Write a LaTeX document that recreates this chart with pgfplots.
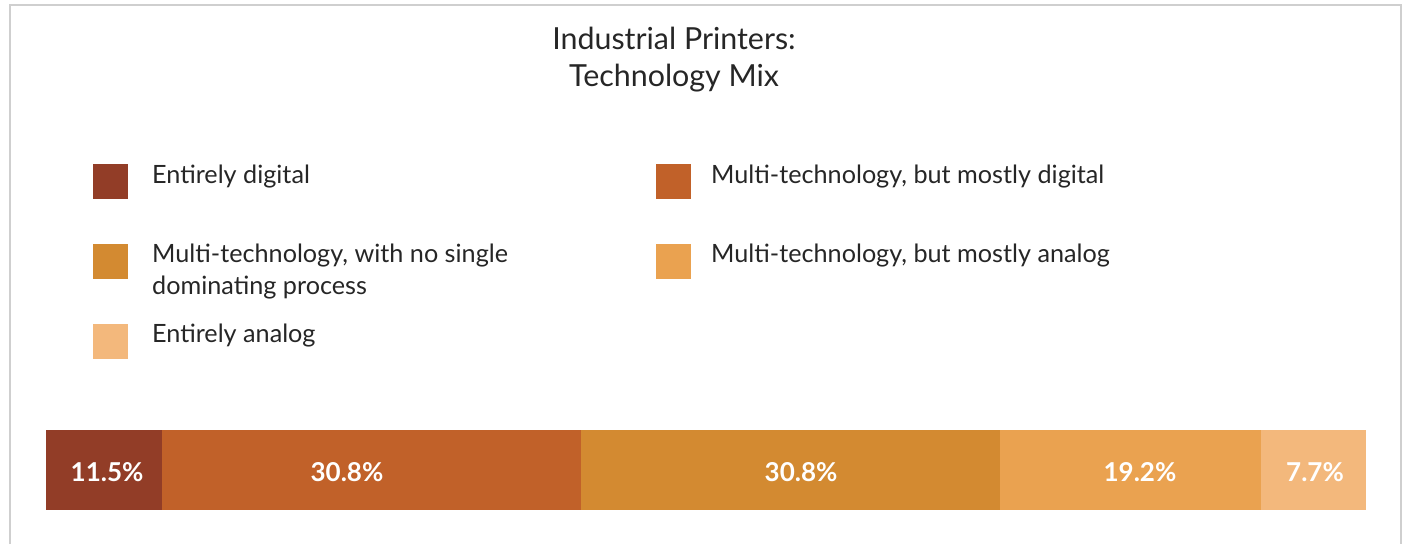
\documentclass[border=0pt]{standalone}
\usepackage{fontspec}
\setmainfont{Lato}
\usepackage{pgfplots}
\pgfplotsset{compat=1.18}
\definecolor{cA}{HTML}{923D27}
\definecolor{cB}{HTML}{C16129}
\definecolor{cC}{HTML}{D38A31}
\definecolor{cD}{HTML}{EAA250}
\definecolor{cE}{HTML}{F3B87C}
\definecolor{framegray}{HTML}{CFCFCF}
\definecolor{txt}{HTML}{262626}
\tikzset{barlab/.style={anchor=base, text=white, font=\bfseries\fontsize{26}{30}\selectfont},
  legtxt/.style={anchor=base west, inner sep=0pt, text=txt, font=\fontsize{25.2}{32}\selectfont}}
\begin{document}
\begin{tikzpicture}
\useasboundingbox (0pt,0pt) rectangle (1405pt,-544pt);
% frame
\draw[framegray, line width=2pt] (10pt,-544pt) -- (10pt,-5pt) -- (1401pt,-5pt) -- (1401pt,-544pt);
% title
\node[anchor=base, text=txt, font=\fontsize{30.4}{36}\selectfont] at (674pt,-49pt) {Industrial Printers:};
\node[anchor=base, text=txt, font=\fontsize{30.4}{36}\selectfont] at (674pt,-86pt) {Technology Mix};
% legend
\fill[cA] (93pt,-164pt) rectangle (128pt,-199pt);
\node[legtxt] at (152pt,-183pt) {Entirely digital};
\fill[cB] (656pt,-164pt) rectangle (691pt,-199pt);
\node[legtxt] at (711pt,-183pt) {Multi-technology, but mostly digital};
\fill[cC] (93pt,-244pt) rectangle (128pt,-279pt);
\node[legtxt] at (152pt,-262pt) {Multi-technology, with no single};
\node[legtxt] at (152pt,-294pt) {dominating process};
\fill[cD] (656pt,-244pt) rectangle (691pt,-279pt);
\node[legtxt] at (711pt,-262pt) {Multi-technology, but mostly analog};
\fill[cE] (93pt,-324pt) rectangle (128pt,-359pt);
\node[legtxt] at (152pt,-342pt) {Entirely analog};
\begin{axis}[
  at={(46pt,-510pt)}, anchor=south west,
  scale only axis, width=1320pt, height=80pt,
  xbar stacked, bar width=80pt,
  xmin=2.94, xmax=100, ymin=-0.5, ymax=0.5,
  hide axis, clip=true,
]
\addplot[fill=cA, draw=none] coordinates {(11.5,0)};
\addplot[fill=cB, draw=none] coordinates {(30.8,0)};
\addplot[fill=cC, draw=none] coordinates {(30.8,0)};
\addplot[fill=cD, draw=none] coordinates {(19.2,0)};
\addplot[fill=cE, draw=none] coordinates {(7.7,0)};
\coordinate (L1) at (axis cs:7.43,-0.14);
\coordinate (L2) at (axis cs:25.07,-0.14);
\coordinate (L3) at (axis cs:58.46,-0.14);
\coordinate (L4) at (axis cs:83.38,-0.14);
\coordinate (L5) at (axis cs:96.25,-0.14);
\end{axis}
\node[barlab] at (L1) {11.5\%};
\node[barlab] at (L2) {30.8\%};
\node[barlab] at (L3) {30.8\%};
\node[barlab] at (L4) {19.2\%};
\node[barlab] at (L5) {7.7\%};
\end{tikzpicture}
\end{document}
